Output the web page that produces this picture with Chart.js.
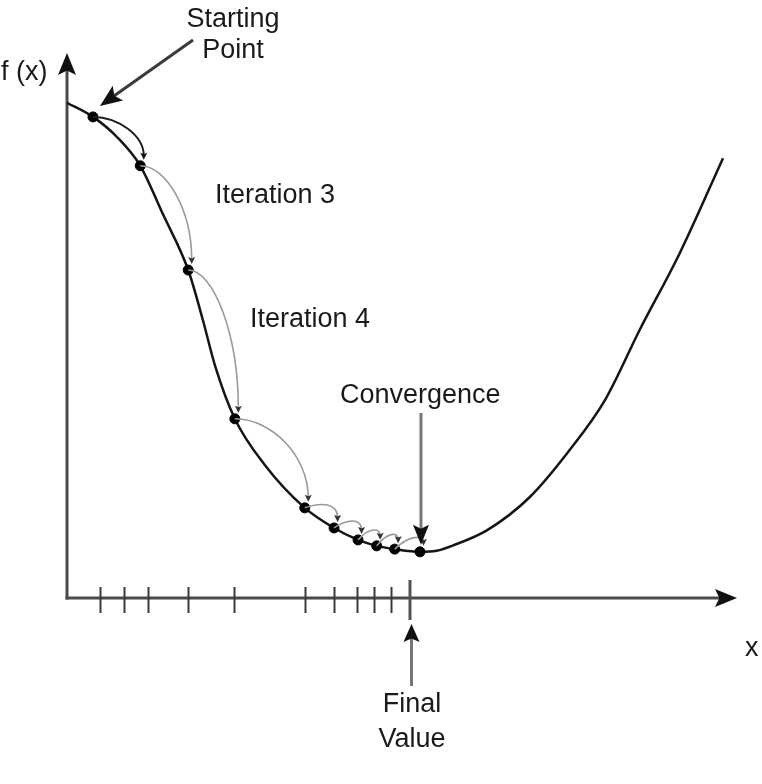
<!DOCTYPE html>
<html lang="en">
<head>
    <meta charset="UTF-8">
    <title>Iterative Convergence</title>
    <script src="https://cdn.jsdelivr.net/npm/chart.js"></script>
    <style>
        body { margin: 0; background: #fff; }
        canvas { display: block; }
    </style>
</head>
<body>
    <canvas id="convChart" width="762" height="784"></canvas>

    <script>
        // f(x) curve (arbitrary units, 0..10 on both axes)
        const curveX = [0, 0.39, 0.75, 1.10, 1.44, 1.82, 2.04, 2.22, 2.52, 2.97, 3.57, 4.01, 4.37, 4.65, 4.92, 5.30, 5.55, 5.80, 6.31, 6.95, 7.55, 8.08, 8.60, 9.20, 9.85];
        const curveY = [9.12, 8.86, 8.49, 7.96, 7.07, 6.04, 5.12, 4.29, 3.30, 2.45, 1.66, 1.29, 1.07, 0.96, 0.90, 0.85, 0.87, 0.97, 1.25, 1.86, 2.73, 3.65, 4.94, 6.35, 8.10];

        // iterates (dots on the curve)
        const iterX = [0.39, 1.10, 1.82, 2.52, 3.57, 4.01, 4.37, 4.65, 4.92, 5.30];
        const iterY = [8.86, 7.96, 6.04, 3.30, 1.66, 1.29, 1.07, 0.96, 0.90, 0.85];

        // marks on the x axis, last one is the final value
        const tickX = [0.50, 0.86, 1.21, 1.82, 2.51, 3.57, 4.01, 4.35, 4.61, 4.87];
        const finalX = 5.15;

        const FONT = '27px "Liberation Sans", Arial, sans-serif';

        function arrowHead(ctx, tipX, tipY, fromX, fromY, len, half, color) {
            const a = Math.atan2(tipY - fromY, tipX - fromX);
            ctx.save();
            ctx.fillStyle = color;
            ctx.beginPath();
            ctx.moveTo(tipX, tipY);
            ctx.lineTo(tipX - len * Math.cos(a) + half * Math.sin(a), tipY - len * Math.sin(a) - half * Math.cos(a));
            ctx.lineTo(tipX - len * Math.cos(a) * 0.8, tipY - len * Math.sin(a) * 0.8);
            ctx.lineTo(tipX - len * Math.cos(a) - half * Math.sin(a), tipY - len * Math.sin(a) + half * Math.cos(a));
            ctx.closePath();
            ctx.fill();
            ctx.restore();
        }

        function arrowLine(ctx, x0, y0, x1, y1, lineColor, headColor, w, len, half) {
            const a = Math.atan2(y1 - y0, x1 - x0);
            ctx.save();
            ctx.strokeStyle = lineColor;
            ctx.lineWidth = w;
            ctx.beginPath();
            ctx.moveTo(x0, y0);
            ctx.lineTo(x1 - len * 0.7 * Math.cos(a), y1 - len * 0.7 * Math.sin(a));
            ctx.stroke();
            ctx.restore();
            arrowHead(ctx, x1, y1, x0, y0, len, half, headColor);
        }

        const axesPlugin = {
            id: 'axesAndNotes',
            beforeDatasetsDraw(chart) {
                const ctx = chart.ctx;
                const xs = chart.scales.x, ys = chart.scales.y;
                const ox = xs.getPixelForValue(0), oy = ys.getPixelForValue(0);

                // axes with arrows
                arrowLine(ctx, ox, oy + 1.5, ox, ys.getPixelForValue(10) - 2, '#4a4a4a', '#111', 3, 22, 9);
                arrowLine(ctx, ox - 1.5, oy, xs.getPixelForValue(10) + 4, oy, '#4a4a4a', '#111', 3, 22, 9);

                // tick marks
                ctx.save();
                ctx.strokeStyle = '#3a3a3a';
                ctx.lineWidth = 2;
                tickX.forEach(v => {
                    const px = Math.round(xs.getPixelForValue(v)) + 0.5;
                    ctx.beginPath();
                    ctx.moveTo(px, oy - 11);
                    ctx.lineTo(px, oy + 15);
                    ctx.stroke();
                });
                ctx.strokeStyle = '#555';
                ctx.lineWidth = 3;
                const fx = xs.getPixelForValue(finalX);
                ctx.beginPath();
                ctx.moveTo(fx, oy - 18);
                ctx.lineTo(fx, oy + 22);
                ctx.stroke();
                ctx.restore();
            },
            afterDatasetsDraw(chart) {
                const ctx = chart.ctx;
                const xs = chart.scales.x, ys = chart.scales.y;
                const pts = iterX.map((v, i) => ({ x: xs.getPixelForValue(v), y: ys.getPixelForValue(iterY[i]) }));

                // curved arrows from each iterate to the next
                for (let i = 0; i < pts.length - 1; i++) {
                    const p0 = pts[i];
                    const p1 = { x: pts[i + 1].x + 3.5, y: pts[i + 1].y - 7 };
                    const dx = p1.x - p0.x, dy = p1.y - p0.y;
                    const lift = dy > 40 ? 0 : Math.max(0, 12 - dy * 0.5);
                    const color = i === 0 ? '#1e1e1e' : '#9a9a9a';
                    ctx.save();
                    ctx.strokeStyle = color;
                    ctx.lineWidth = i === 0 ? 2 : 1.6;
                    ctx.beginPath();
                    ctx.moveTo(p0.x, p0.y);
                    const c2y = lift > 0 ? p0.y - lift : p1.y - 0.55 * dy;
                    ctx.bezierCurveTo(p0.x + 0.5 * dx, p0.y - lift, p1.x, c2y, p1.x, p1.y - 3);
                    ctx.stroke();
                    ctx.restore();
                    arrowHead(ctx, p1.x, p1.y + 1, p1.x, p1.y - 10, 7, 3.5, i === 0 ? '#111' : '#333');
                }

                // labels
                ctx.save();
                ctx.font = FONT;
                ctx.fillStyle = '#1a1a1a';
                ctx.textBaseline = 'alphabetic';
                ctx.textAlign = 'left';
                ctx.fillText('f (x)', 1, 80);
                ctx.fillText('Iteration 3', 215, 203);
                ctx.fillText('Iteration 4', 250, 327);
                ctx.fillText('Convergence', 340, 403);
                ctx.fillText('x', 745, 656);
                ctx.textAlign = 'center';
                ctx.fillText('Starting', 233, 27);
                ctx.fillText('Point', 233, 58);
                ctx.fillText('Final', 412, 712);
                ctx.fillText('Value', 412, 747);
                ctx.restore();

                // pointer arrows
                const last = pts[pts.length - 1];
                arrowLine(ctx, 193, 40, pts[0].x + 7, pts[0].y - 11, '#3a3a3a', '#111', 3, 22, 9);
                arrowLine(ctx, last.x + 1, 413, last.x + 1, last.y - 7, '#777', '#111', 3, 20, 8);
                const fx = xs.getPixelForValue(finalX) + 1.5;
                arrowLine(ctx, fx, 686, fx, ys.getPixelForValue(0) + 26, '#777', '#111', 3, 18, 8);
            }
        };

        const ctx = document.getElementById('convChart').getContext('2d');
        const convChart = new Chart(ctx, {
            data: {
                datasets: [{
                    type: 'line',
                    label: 'f(x)',
                    data: curveX.map((v, i) => ({ x: v, y: curveY[i] })),
                    borderColor: '#151515',
                    borderWidth: 2.5,
                    pointRadius: 0,
                    cubicInterpolationMode: 'monotone',
                    order: 2
                }, {
                    type: 'scatter',
                    label: 'Iterates',
                    data: iterX.map((v, i) => ({ x: v, y: iterY[i] })),
                    backgroundColor: '#000',
                    borderColor: '#000',
                    pointRadius: 5,
                    order: 1
                }]
            },
            options: {
                responsive: false,
                animation: false,
                events: [],
                layout: { padding: { left: 67, right: 29, top: 55, bottom: 186 } },
                scales: {
                    x: { type: 'linear', min: 0, max: 10, display: false },
                    y: { type: 'linear', min: 0, max: 10, display: false }
                },
                plugins: {
                    legend: { display: false },
                    tooltip: { enabled: false }
                }
            },
            plugins: [axesPlugin]
        });
    </script>
</body>
</html>
